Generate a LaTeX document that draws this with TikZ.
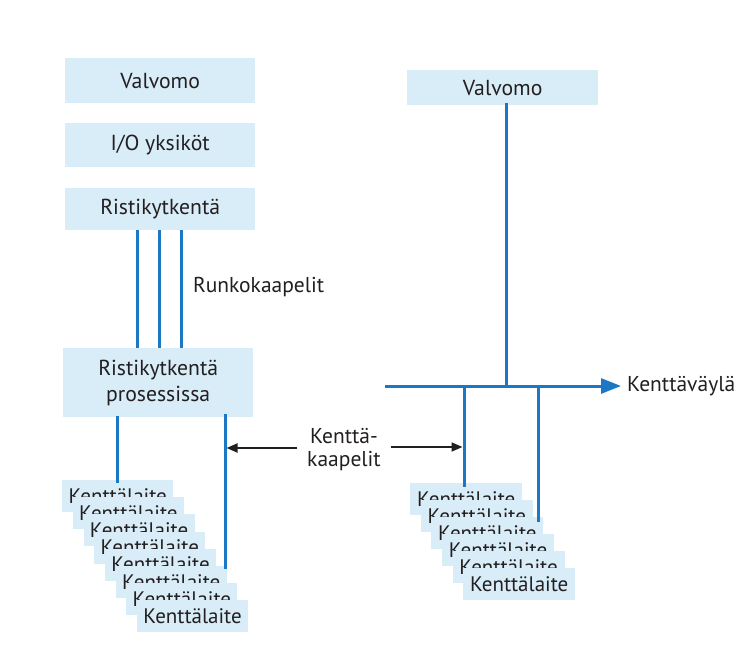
\documentclass[tikz,border=0pt]{standalone}
\usepackage{fontspec}
\setmainfont{PT Sans}
\usetikzlibrary{arrows.meta}
\definecolor{boxfill}{HTML}{D8EDF8}
\definecolor{lineblue}{HTML}{1C78C4}
\definecolor{txt}{HTML}{231F20}
\begin{document}
\begin{tikzpicture}[x=1pt,y=-1pt,
  box/.style={fill=boxfill, draw=none, anchor=north west, minimum width=190pt, inner sep=0pt, text=txt, font=\fontsize{21.7}{26}\selectfont, align=center},
  card/.style={fill=boxfill, draw=none, anchor=north west, minimum width=111pt, minimum height=32pt, inner sep=0pt, text=txt, font=\fontsize{21}{22}\selectfont},
  wire/.style={draw=lineblue, line width=3pt},
  lbl/.style={text=txt, font=\fontsize{21.5}{23}\selectfont, inner sep=0pt},
  blackarrow/.style={draw=txt, line width=1.8pt, -{Triangle[length=11pt,width=9pt]}}]
\useasboundingbox (0,0) rectangle (737,646);
\fill[white] (0,0) rectangle (737,646);

% left column boxes
\node[box, minimum height=45pt] (v1) at (65,58) {Valvomo};
\node[box, minimum height=44pt] (io) at (65,123) {I/O yksiköt};
\node[box, minimum height=42pt] (rk) at (65,188) {Ristikytkentä};
\node[box, minimum height=69pt] (rkp) at (63,348) {Ristikytkentä\\prosessissa};

% right column box
\node[box, minimum height=35pt, minimum width=191pt] (v2) at (407,70) {Valvomo};

% field device cards, left stack
\foreach \i in {0,...,7}
  \node[card] (l\i) at ({62+\i*10.7},{480+\i*17.1}) {\raisebox{-1.5pt}{Kenttälaite}};

% field device cards, right stack
\foreach \i in {0,...,5}
  \node[card, minimum width=112pt] (r\i) at ({410+\i*10.6},{483+\i*17}) {\raisebox{-1.5pt}{Kenttälaite}};

% trunk cables
\coordinate (t1) at (137,0);
\coordinate (t2) at (159,0);
\coordinate (t3) at (181,0);
\foreach \t in {t1,t2,t3}
  \draw[wire] (rk.south -| \t) -- (rkp.north -| \t);
\node[lbl, anchor=west] (rkl) at (193,287) {Runkokaapelit};

% field cables, left
\coordinate (la) at (117,0);
\coordinate (lb) at (225,0);
\draw[wire] ([yshift=1pt]rkp.south -| la) -- ([yshift=-3pt]l0.north -| la);
\draw[wire] ([yshift=3pt]rkp.south -| lb) -- ([yshift=-3pt]l5.north -| lb);

% fieldbus
\node[lbl, anchor=west] (kv) at (627,386) {Kenttäväylä};
\coordinate (busL) at (385,386);
\coordinate (tv) at (506,0);
\coordinate (ra) at (464,0);
\coordinate (rb) at (538,0);
\draw[wire] ([yshift=2pt]v2.south -| tv) -- (busL -| tv);
\draw[wire, -{Triangle[length=20pt,width=15pt]}, shorten >=6pt] (busL) -- (kv.west);
\draw[wire] (busL -| ra) -- ([yshift=-4pt]r0.north -| ra);
\draw[wire] (busL -| rb) -- ([yshift=-5pt]r2.north -| rb);

% field cable label
\node[lbl, align=center, inner xsep=10pt] (kk) at (344,450) {Kenttä-\\kaapelit};
\draw[blackarrow, shorten >=1.5pt] ([yshift=2pt]kk.west) -- ([yshift=2pt]kk.west -| lb);
\draw[blackarrow, shorten >=1.5pt] ([yshift=3pt]kk.east) -- ([yshift=3pt]kk.east -| ra);
\end{tikzpicture}
\end{document}
